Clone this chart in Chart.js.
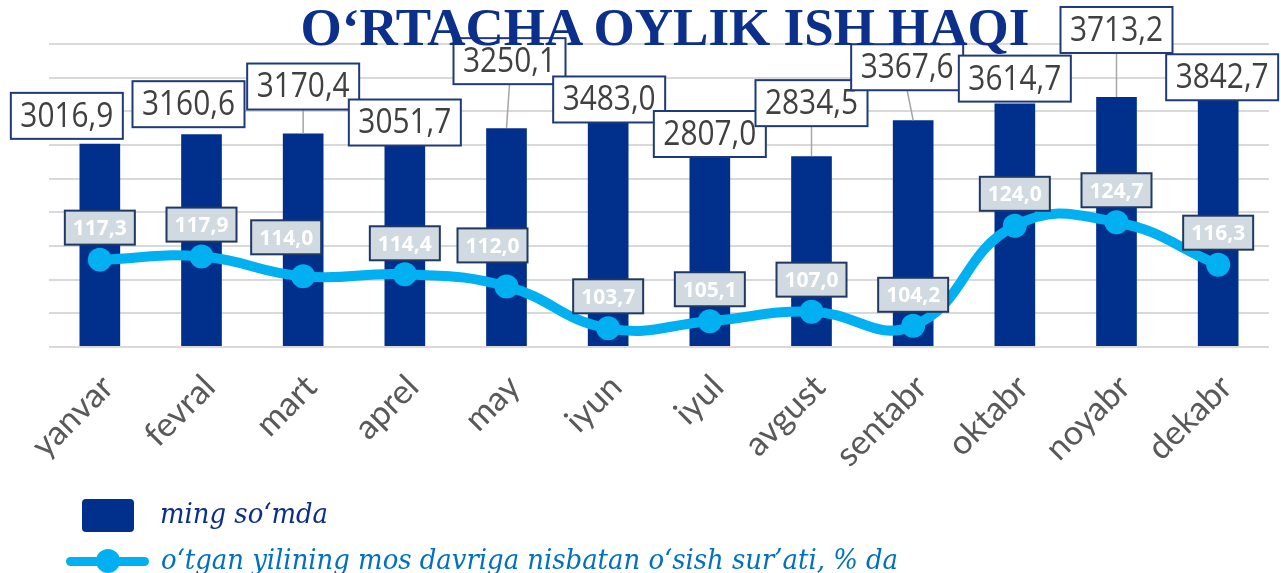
<!DOCTYPE html>
<html>
<head>
<meta charset="utf-8">
<script src="https://cdn.jsdelivr.net/npm/chart.js@4/dist/chart.umd.min.js"></script>
<style>
  html, body { margin:0; padding:0; background:#fff; }
  body { width:1281px; height:573px; position:relative; overflow:hidden; }
  #chartBox { position:absolute; left:0; top:0; width:1281px; height:573px; }
  #title { position:absolute; left:0; top:1px; width:1330px; text-align:center;
    font-family:"Liberation Serif", "Times New Roman", serif; font-weight:bold;
    font-size:53px; line-height:53px; color:#0B2F8A; white-space:nowrap; }
  .lg-text { position:absolute; font-family:"DejaVu Serif Condensed", "DejaVu Serif", serif; font-style:italic;
    font-size:28.8px; line-height:30px; white-space:nowrap; }
  #lgBar { position:absolute; left:82px; top:499px; width:52px; height:33px; border-radius:4px; background:#00308C; }
  #lgLine { position:absolute; left:66px; top:557px; width:83px; height:9px; border-radius:5px; background:#00B0F0; }
  #lgDot { position:absolute; left:96px; top:549px; width:24px; height:24px; border-radius:50%; background:#00B0F0; }
</style>
</head>
<body>
<div id="chartBox"><canvas id="c" width="1281" height="573"></canvas></div>
<div id="title">O‘RTACHA OYLIK ISH HAQI</div>
<div id="lgBar"></div>
<div class="lg-text" style="left:160px; top:498px; color:#0B2F8A;">ming so‘mda</div>
<div id="lgLine"></div>
<div id="lgDot"></div>
<div class="lg-text" style="left:161px; top:544px; color:#0070C0;">o‘tgan yilining mos davriga nisbatan o‘sish sur’ati, % da</div>
<script>
// ---- data ----
const months = ['yanvar','fevral','mart','aprel','may','iyun','iyul','avgust','sentabr','oktabr','noyabr','dekabr'];
const wages  = [3016.9, 3160.6, 3170.4, 3051.7, 3250.1, 3483.0, 2807.0, 2834.5, 3367.6, 3614.7, 3713.2, 3842.7];
const growth = [117.3, 117.9, 114.0, 114.4, 112.0, 103.7, 105.1, 107.0, 104.2, 124.0, 124.7, 116.3];
const seriesNames = ['ming so‘mda', 'o‘tgan yilining mos davriga nisbatan o‘sish sur’ati, % da'];

// label box placement (offsets of box centre from the mark, px)
const barLabelDx = [-33, -13, 0, 0, 3, 1, 0, 0, -6, 0, 0, 4];
const barLabelDy = [-28, -30, -47, -19, -67, -13, -24, -53, -53, -25, -67, -11];
const lineLabelDx = [0, 0, -17, 0, -14, 0, 0, 0, 0, 0, 0, 0];
const lineLabelDy = [-32, -32, -39, -31, -41, -32, -32, -32, -31, -32, -32, -32];

const fmt = v => v.toFixed(1).replace('.', ',');

function drawNarrow(ctx, text, cx, cy, maxW) {
  const w = ctx.measureText(text).width;
  const s = Math.min(1, maxW / w);
  ctx.save();
  ctx.translate(cx, cy);
  ctx.scale(s, 1);
  ctx.fillText(text, 0, 0);
  ctx.restore();
}

const labelPlugin = {
  id: 'boxLabels',
  afterDatasetsDraw(chart) {
    const ctx = chart.ctx;
    const bars = chart.getDatasetMeta(0).data;
    const pts = chart.getDatasetMeta(1).data;
    ctx.save();
    // bar labels
    bars.forEach((b, i) => {
      const w = 112, h = 46;
      const cx = b.x + barLabelDx[i], cy = b.y + barLabelDy[i];
      const bottom = cy + h / 2;
      if (b.y - bottom > 10) {
        ctx.strokeStyle = '#A6A6A6'; ctx.lineWidth = 1.5;
        ctx.beginPath(); ctx.moveTo(cx, bottom); ctx.lineTo(b.x, b.y); ctx.stroke();
      }
      ctx.fillStyle = '#ffffff';
      ctx.fillRect(cx - w / 2, cy - h / 2, w, h);
      ctx.strokeStyle = '#1F3A7A'; ctx.lineWidth = 2;
      ctx.strokeRect(cx - w / 2, cy - h / 2, w, h);
      ctx.fillStyle = '#404040';
      ctx.font = '35px "Open Sans", sans-serif';
      ctx.textAlign = 'center'; ctx.textBaseline = 'middle';
      drawNarrow(ctx, fmt(wages[i]), cx, cy + 1, 93);
    });
    // line labels
    pts.forEach((p, i) => {
      const w = 70, h = 34;
      const cx = p.x + lineLabelDx[i], cy = p.y + lineLabelDy[i];
      ctx.fillStyle = '#D1DAE0';
      ctx.fillRect(cx - w / 2, cy - h / 2, w, h);
      ctx.strokeStyle = '#1F3864'; ctx.lineWidth = 2;
      ctx.strokeRect(cx - w / 2, cy - h / 2, w, h);
      ctx.fillStyle = '#ffffff';
      ctx.font = 'bold 22px "Open Sans", sans-serif';
      ctx.textAlign = 'center'; ctx.textBaseline = 'middle';
      drawNarrow(ctx, fmt(growth[i]), cx, cy + 1, 54);
    });
    ctx.restore();
  }
};

new Chart(document.getElementById('c'), {
  data: {
    labels: months,
    datasets: [
      {
        type: 'bar', label: seriesNames[0], data: wages, yAxisID: 'y',
        backgroundColor: '#00308C', categoryPercentage: 1.0, barPercentage: 0.4, order: 2
      },
      {
        type: 'line', label: seriesNames[1], data: growth, yAxisID: 'y1',
        borderColor: '#00B0F0', backgroundColor: '#00B0F0', borderWidth: 10,
        pointRadius: 12, pointHoverRadius: 12, pointBorderWidth: 0,
        tension: 0.45, order: 1, clip: false
      }
    ]
  },
  options: {
    responsive: false, animation: false, devicePixelRatio: 1,
    layout: { padding: { left: 49, right: 6, top: 44, bottom: 0 } },
    plugins: { legend: { display: false }, tooltip: { enabled: false }, title: { display: false } },
    scales: {
      x: {
        grid: { display: false }, border: { display: false },
        ticks: { color: '#595959', font: { family: 'Lato', size: 34 }, minRotation: 45, maxRotation: 45,
                 autoSkip: false, padding: 12, labelOffset: 8 },
        afterFit: s => { s.height = 226; }
      },
      y: {
        min: 0, max: 4500, ticks: { stepSize: 500, display: false },
        grid: { color: '#D9D9D9', lineWidth: 2, drawTicks: false }, border: { display: false },
        afterFit: s => { s.width = 0; }
      },
      y1: { min: 100, max: 160, display: false, position: 'right' }
    }
  },
  plugins: [labelPlugin]
});
</script>
</body>
</html>
